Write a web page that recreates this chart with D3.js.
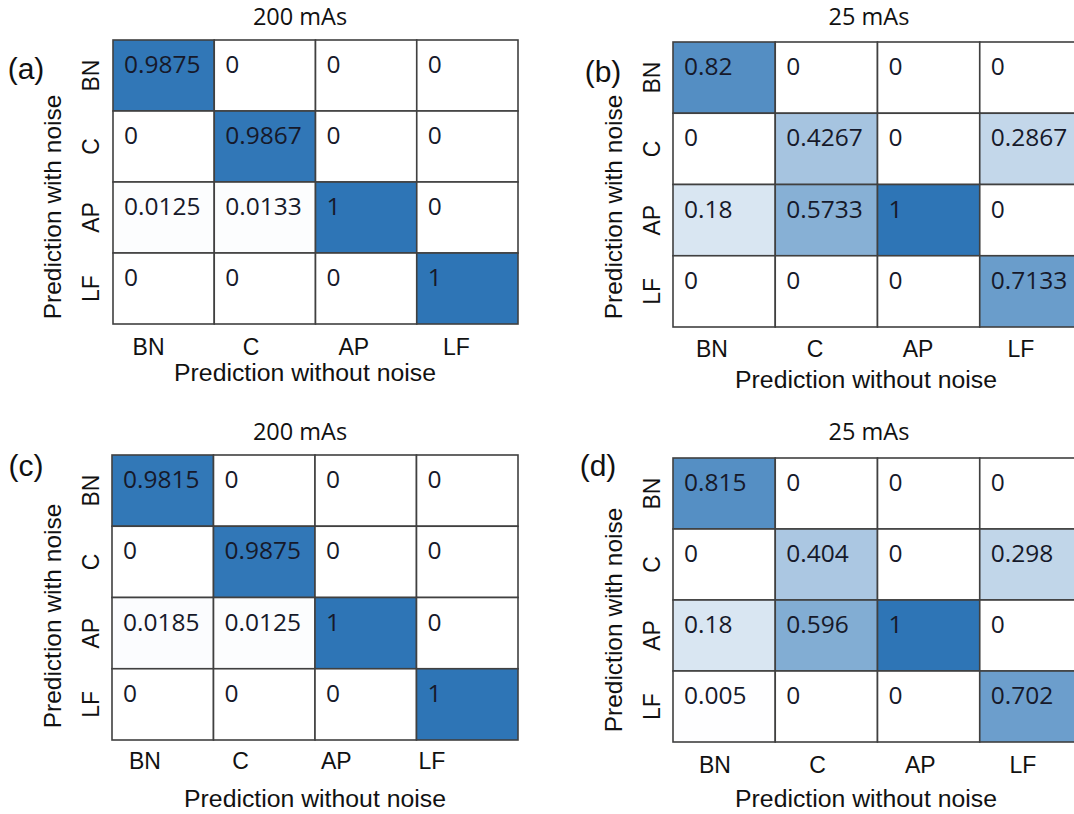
<!DOCTYPE html>
<html>
<head>
<meta charset="utf-8">
<script src="https://cdn.jsdelivr.net/npm/d3@7"></script>
<style>
  html, body { margin: 0; padding: 0; background: #fff; }
  svg { display: block; }
</style>
</head>
<body>
<svg id="chart" width="1074" height="814"></svg>
<script>
// ---------- data ----------
const rowLabels = ["BN", "C", "AP", "LF"];      // prediction with noise (rows)
const colLabels = ["BN", "C", "AP", "LF"];      // prediction without noise (columns)
const panelLetters = ["(a)", "(b)", "(c)", "(d)"];
const panelTitles = ["200 mAs", "25 mAs", "200 mAs", "25 mAs"];
const xAxisTitle = "Prediction without noise";
const yAxisTitle = "Prediction with noise";

const valuesA = [
  [0.9875, 0, 0, 0],
  [0, 0.9867, 0, 0],
  [0.0125, 0.0133, 1, 0],
  [0, 0, 0, 1]
];
const valuesB = [
  [0.82, 0, 0, 0],
  [0, 0.4267, 0, 0.2867],
  [0.18, 0.5733, 1, 0],
  [0, 0, 0, 0.7133]
];
const valuesC = [
  [0.9815, 0, 0, 0],
  [0, 0.9875, 0, 0],
  [0.0185, 0.0125, 1, 0],
  [0, 0, 0, 1]
];
const valuesD = [
  [0.815, 0, 0, 0],
  [0, 0.404, 0, 0.298],
  [0.18, 0.596, 1, 0],
  [0.005, 0, 0, 0.702]
];
const panelValues = [valuesA, valuesB, valuesC, valuesD];

// ---------- layout ----------
const layouts = [
  { x0: 113, x1: 518, y0: 40, y1: 324, titleX: 300, titleY: 25, letX: 26, letY: 79,
    colL0: 148.6, colL1: 456.3, colLY: 355, xtX: 305, xtY: 381, ytX: 52, ytY: 207, rowLX: 91 },
  { x0: 673, x1: 1082, y0: 42, y1: 327, titleX: 869, titleY: 25, letX: 603, letY: 82,
    colL0: 712, colL1: 1021, colLY: 357, xtX: 866, xtY: 388, ytX: 613, ytY: 207, rowLX: 652 },
  { x0: 112, x1: 518, y0: 455, y1: 740, titleX: 300, titleY: 440, letX: 26, letY: 476,
    colL0: 145, colL1: 432, colLY: 769, xtX: 315, xtY: 807, ytX: 52, ytY: 616, rowLX: 91 },
  { x0: 673, x1: 1082, y0: 458, y1: 742, titleX: 869, titleY: 440, letX: 598, letY: 476,
    colL0: 715, colL1: 1023, colLY: 773, xtX: 866, xtY: 807, ytX: 613, ytY: 620, rowLX: 652 }
];

const numFont = "'Open Sans', 'Noto Sans', sans-serif";
const labFont = "'Liberation Sans', Arial, sans-serif";

const color = d3.scaleLinear().domain([0, 1]).range(["#ffffff", "#2e75b6"]);

const svg = d3.select("#chart");

panelValues.forEach((vals, p) => {
  const L = layouts[p];
  const g = svg.append("g");

  const x = d3.scaleBand().domain(colLabels).range([L.x0, L.x1]);
  const y = d3.scaleBand().domain(rowLabels).range([L.y0, L.y1]);
  const xl = d3.scalePoint().domain(colLabels).range([L.colL0, L.colL1]);

  const cells = [];
  vals.forEach((row, i) => row.forEach((v, j) => cells.push({ r: rowLabels[i], c: colLabels[j], v })));

  g.selectAll("rect.cell").data(cells).enter().append("rect")
    .attr("class", "cell")
    .attr("x", d => x(d.c))
    .attr("y", d => y(d.r))
    .attr("width", x.bandwidth())
    .attr("height", y.bandwidth())
    .attr("fill", d => color(d.v))
    .attr("stroke", "#404040")
    .attr("stroke-width", 1.6);

  g.selectAll("text.val").data(cells).enter().append("text")
    .attr("class", "val")
    .attr("x", d => x(d.c) + 11)
    .attr("y", d => y(d.r) + 33)
    .attr("font-family", numFont)
    .attr("font-size", 24.5)
    .attr("fill", "#16192a")
    .text(d => String(d.v));

  // title
  g.append("text")
    .attr("x", L.titleX).attr("y", L.titleY)
    .attr("text-anchor", "middle")
    .attr("font-family", numFont).attr("font-size", 23.5)
    .attr("fill", "#111")
    .text(panelTitles[p]);

  // panel letter
  g.append("text")
    .attr("x", L.letX).attr("y", L.letY)
    .attr("text-anchor", "middle")
    .attr("font-family", labFont).attr("font-size", 30)
    .attr("fill", "#111")
    .text(panelLetters[p]);

  // column labels
  g.selectAll("text.col").data(colLabels).enter().append("text")
    .attr("class", "col")
    .attr("x", d => xl(d)).attr("y", L.colLY)
    .attr("text-anchor", "middle")
    .attr("font-family", labFont).attr("font-size", 23)
    .attr("fill", "#111")
    .text(d => d);

  // row labels (rotated)
  g.selectAll("text.row").data(rowLabels).enter().append("text")
    .attr("class", "row")
    .attr("transform", d => `translate(${L.rowLX},${y(d) + y.bandwidth() / 2}) rotate(-90)`)
    .attr("text-anchor", "middle")
    .attr("dy", "0.35em")
    .attr("font-family", labFont).attr("font-size", 23)
    .attr("fill", "#111")
    .text(d => d);

  // axis titles
  g.append("text")
    .attr("x", L.xtX).attr("y", L.xtY)
    .attr("text-anchor", "middle")
    .attr("font-family", labFont).attr("font-size", 24.8)
    .attr("fill", "#111")
    .text(xAxisTitle);

  g.append("text")
    .attr("transform", `translate(${L.ytX},${L.ytY}) rotate(-90)`)
    .attr("text-anchor", "middle")
    .attr("dy", "0.35em")
    .attr("font-family", labFont).attr("font-size", 24.5)
    .attr("fill", "#111")
    .text(yAxisTitle);
});
</script>
</body>
</html>
